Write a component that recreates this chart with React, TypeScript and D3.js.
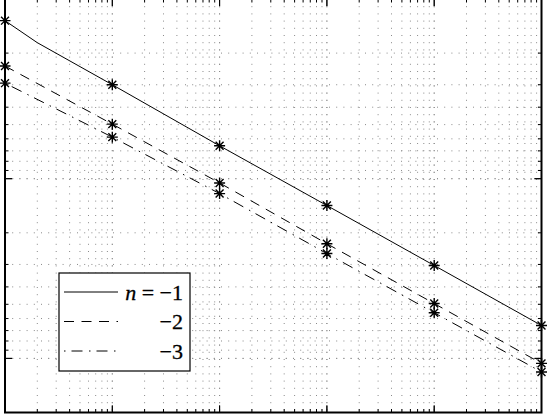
import * as d3 from 'd3';

// x positions of the markers (one per decade)
const decades = [1, 10, 100, 1000, 10000, 100000];
// n = -1 (solid), plus one unmarked point at x = 2 where the line bends
const seriesN1 = [0.132, 0.3, 0.656, 1.41, 3.04, 6.56];
const bendN1 = { x: 2, y: 0.175 };
// n = -2 (dashed)
const seriesN2 = [0.236, 0.497, 1.056, 2.3, 4.95, 10.66];
// n = -3 (dash-dot)
const seriesN3 = [0.294, 0.587, 1.21, 2.61, 5.57, 11.9];
const legendLabels = ['−1', '−2', '−3'];
const dashes = ['none', '10 7.5', '1.5 6 11 6.5'];

const W = 547;
const H = 415;

export default function App() {
  const x = d3.scaleLog().domain([1, 1e5]).range([5, 541.5]);
  const y = d3.scaleLog().domain([0.1, 20]).range([-1, 412.5]);
  const [x0, x1] = x.range();
  const [y0, y1] = y.range();

  // every 1..9 x 10^k inside the domains
  const gridX: number[] = [];
  for (let k = 0; k < 5; k++) for (let m = 1; m <= 10; m++) gridX.push(m * 10 ** k);
  const gridY: number[] = [];
  for (let k = -1; k < 2; k++) for (let m = 1; m <= 10; m++) {
    const v = m * 10 ** k;
    if (v <= 20) gridY.push(v);
  }
  const isMajor = (v: number) => Math.abs(Math.log10(v) - Math.round(Math.log10(v))) < 1e-9;

  const line = d3.line<[number, number]>().x((d) => x(d[0])).y((d) => y(d[1]));

  const pts1: [number, number][] = decades.map((d, i) => [d, seriesN1[i]]);
  pts1.splice(1, 0, [bendN1.x, bendN1.y]);
  const lines: [number, number][][] = [
    pts1,
    decades.map((d, i) => [d, seriesN2[i]]),
    decades.map((d, i) => [d, seriesN3[i]]),
  ];
  const marks = [seriesN1, seriesN2, seriesN3];

  const star = (cx: number, cy: number, r = 5.5) => {
    const a = r * 0.72;
    return `M${cx - r},${cy}H${cx + r}M${cx},${cy - r}V${cy + r}M${cx - a},${cy - a}L${cx + a},${cy + a}M${cx - a},${cy + a}L${cx + a},${cy - a}`;
  };

  return (
    <svg width={W} height={H} style={{ position: 'absolute', left: 0, top: 0, background: '#fff' }}>
      <g stroke="#8a8a8a" strokeWidth={1} strokeDasharray="1 6.2" fill="none">
        {gridX.map((v, i) => (
          <line key={'gx' + i} x1={x(v)} x2={x(v)} y1={y0} y2={y1} />
        ))}
        {gridY.map((v, i) => (
          <line key={'gy' + i} x1={x0} x2={x1} y1={y(v)} y2={y(v)} />
        ))}
      </g>

      <g stroke="#000" strokeWidth={1} fill="none">
        {gridX.map((v, i) => {
          const L = isMajor(v) ? 7 : 3.5;
          return (
            <g key={'tx' + i}>
              <line x1={x(v)} x2={x(v)} y1={y1} y2={y1 - L} />
              <line x1={x(v)} x2={x(v)} y1={y0} y2={y0 + L} />
            </g>
          );
        })}
        {gridY.map((v, i) => {
          const L = isMajor(v) ? 7 : 3.5;
          return (
            <g key={'ty' + i}>
              <line x1={x0} x2={x0 + L} y1={y(v)} y2={y(v)} />
              <line x1={x1} x2={x1 - L} y1={y(v)} y2={y(v)} />
            </g>
          );
        })}
      </g>

      <g stroke="#000" strokeWidth={1} fill="none">
        {lines.map((pts, i) => (
          <path key={'l' + i} d={line(pts) ?? ''} strokeDasharray={dashes[i]} />
        ))}
      </g>
      <g stroke="#000" strokeWidth={1.4} fill="none">
        {marks.map((s, i) =>
          s.map((v, j) => <path key={'m' + i + '-' + j} d={star(x(decades[j]), y(v))} />)
        )}
      </g>

      <rect x={x0} y={y0} width={x1 - x0} height={y1 - y0} fill="none" stroke="#000" strokeWidth={2} />

      <g style={{ fontFamily: "'Liberation Serif', serif", fontSize: '22px' }}>
        <rect x={59} y={273} width={131} height={98} fill="#fff" stroke="#000" strokeWidth={1.2} />
        {legendLabels.map((lab, i) => {
          const ly = 292 + i * 29.5;
          return (
            <g key={'lg' + i}>
              <line x1={64} x2={118} y1={ly} y2={ly} stroke="#000" strokeWidth={1} strokeDasharray={dashes[i]} />
              <text x={183} y={ly + 7.5} textAnchor="end" fill="#000" stroke="#000" strokeWidth={0.3}>
                {i === 0 ? (
                  <>
                    <tspan fontStyle="italic">n</tspan>
                    <tspan> = </tspan>
                  </>
                ) : null}
                <tspan>{lab}</tspan>
              </text>
            </g>
          );
        })}
      </g>
    </svg>
  );
}
